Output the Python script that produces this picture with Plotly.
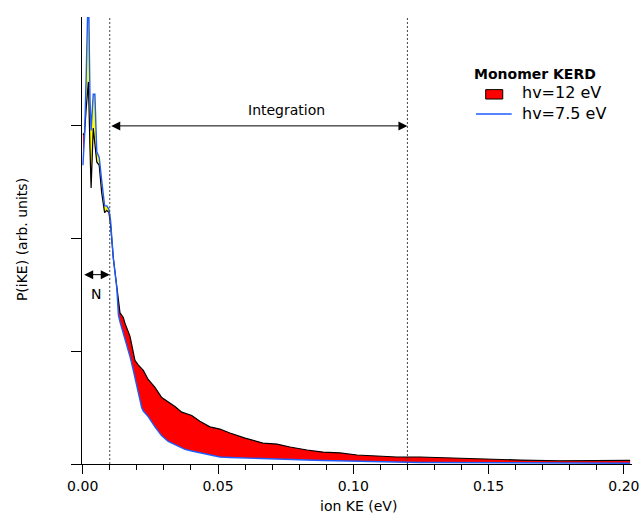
import numpy as np
import plotly.graph_objects as go

# ---- data ----
ion_ke = [0.0001, 0.0007, 0.0013, 0.0021, 0.0027, 0.0031, 0.0039, 0.0045, 0.0052, 0.0061,
          0.0070, 0.0081, 0.0089, 0.0097, 0.0103, 0.0113, 0.0126, 0.0132, 0.0138, 0.0150,
          0.0156, 0.0169, 0.0175, 0.0187, 0.0193, 0.0205, 0.0218, 0.0224, 0.0242, 0.0267,
          0.0292, 0.0316, 0.0341, 0.0366, 0.0378, 0.0403, 0.0433, 0.0470, 0.0507, 0.0544,
          0.0600, 0.0666, 0.0718, 0.0766, 0.0829, 0.0888, 0.0951, 0.1014, 0.1088, 0.1161,
          0.1246, 0.1320, 0.1468, 0.1616, 0.1764, 0.1912, 0.2023]

p_12ev = [2.92, 2.94, 3.16, 3.39, 2.79, 2.45, 2.98, 2.83, 2.68, 2.65,
          2.41, 2.23, 2.25, 2.23, 2.12, 1.83, 1.59, 1.43, 1.34, 1.30,
          1.25, 1.17, 1.13, 0.99, 0.92, 0.88, 0.85, 0.83, 0.75, 0.68,
          0.59, 0.55, 0.51, 0.46, 0.45, 0.43, 0.38, 0.33, 0.31, 0.275,
          0.23, 0.186, 0.177, 0.151, 0.124, 0.106, 0.098, 0.080, 0.071, 0.062,
          0.062, 0.056, 0.044, 0.035, 0.029, 0.029, 0.033]

p_7p5ev = [2.65, 2.92, 3.45, 4.30, 3.23, 2.96, 3.28, 3.28, 2.77, 2.72,
           2.52, 2.29, 2.29, 2.26, 2.16, 1.83, 1.56, 1.32, 1.26, 1.16,
           1.10, 1.01, 0.95, 0.83, 0.76, 0.63, 0.50, 0.47, 0.42, 0.33,
           0.25, 0.20, 0.17, 0.14, 0.13, 0.115, 0.098, 0.080, 0.062, 0.058,
           0.053, 0.044, 0.040, 0.035, 0.035, 0.031, 0.027, 0.027, 0.022, 0.018,
           0.013, 0.013, 0.012, 0.011, 0.009, 0.009, 0.007]

norm_range = [0.0, 0.01]      # "N" normalisation window
integ_range = [0.01, 0.12]    # integration window
y_ticks = [0, 1, 2, 3]
x_ticks = [0.00, 0.05, 0.10, 0.15, 0.20]
x_ticklabels = ["0.00", "0.05", "0.10", "0.15", "0.20"]

x = np.array(ion_ke)
y12 = np.array(p_12ev)
y75 = np.array(p_7p5ev)

BLUE = "#1f5cff"
FONT = "DejaVu Sans"

fig = go.Figure()

# red fill between curves (full range)
fig.add_trace(go.Scatter(x=x, y=y75, mode="lines", line=dict(width=0, color=BLUE),
                         showlegend=False, hoverinfo="skip"))
fig.add_trace(go.Scatter(x=x, y=y12, mode="lines", line=dict(width=0, color="black"),
                         fill="tonexty", fillcolor="#ff0000", showlegend=False, hoverinfo="skip"))

# yellow fill in the normalisation window (where hv=7.5 lies above)
m = (x > x[0]) & (x <= norm_range[1])
fig.add_trace(go.Scatter(x=x[m], y=y75[m], mode="lines", line=dict(width=0, color=BLUE),
                         showlegend=False, hoverinfo="skip"))
fig.add_trace(go.Scatter(x=x[m], y=y12[m], mode="lines", line=dict(width=0, color="black"),
                         fill="tonexty", fillcolor="#ffff00", showlegend=False, hoverinfo="skip"))

# curves
fig.add_trace(go.Scatter(x=x, y=y12, mode="lines", line=dict(width=1.2, color="black"),
                         name="hv=12 eV", showlegend=False))
fig.add_trace(go.Scatter(x=x, y=y75, mode="lines", line=dict(width=1.4, color=BLUE),
                         name="hv=7.5 eV", showlegend=False))

# dotted vertical markers
for xv in [norm_range[1], integ_range[1]]:
    fig.add_shape(type="line", xref="x", yref="paper", x0=xv, x1=xv, y0=0, y1=1,
                  line=dict(color="#444444", width=1, dash="2px,2px"))

# double arrows
fig.add_annotation(x=integ_range[1], y=3.0, ax=integ_range[0], ay=3.0, xref="x", yref="y",
                   axref="x", ayref="y", text="", showarrow=True, arrowhead=2,
                   arrowside="end+start", arrowsize=1.8, arrowwidth=1, arrowcolor="black",
                   standoff=0, startstandoff=0)
fig.add_annotation(x=norm_range[1], y=1.68, ax=norm_range[0], ay=1.68, xref="x", yref="y",
                   axref="x", ayref="y", text="", showarrow=True, arrowhead=2,
                   arrowside="end+start", arrowsize=1.8, arrowwidth=1, arrowcolor="black",
                   standoff=0, startstandoff=0)
fig.add_annotation(x=0.0752, y=3.14, xref="x", yref="y", text="Integration", showarrow=False,
                   font=dict(family=FONT, size=14, color="black"))
fig.add_annotation(x=0.0049, y=1.51, xref="x", yref="y", text="N", showarrow=False,
                   font=dict(family=FONT, size=14, color="black"))

# legend (drawn manually)
fig.add_annotation(x=0.8245, y=0.8725, xref="paper", yref="paper", text="<b>Monomer KERD</b>",
                   showarrow=False, xanchor="center", yanchor="middle",
                   font=dict(family=FONT, size=14, color="black"))
fig.add_annotation(x=0.796, y=0.830, xref="paper", yref="paper", text="hv=12 eV",
                   showarrow=False, xanchor="left", yanchor="middle",
                   font=dict(family=FONT, size=16, color="black"))
fig.add_annotation(x=0.796, y=0.785, xref="paper", yref="paper", text="hv=7.5 eV",
                   showarrow=False, xanchor="left", yanchor="middle",
                   font=dict(family=FONT, size=16, color="black"))
fig.add_shape(type="rect", xref="paper", yref="paper", x0=0.7340, x1=0.7650, y0=0.8165, y1=0.8375,
              line=dict(color="black", width=1), fillcolor="#ff0000")
fig.add_shape(type="line", xref="paper", yref="paper", x0=0.7164, x1=0.7813, y0=0.7830, y1=0.7830,
              line=dict(color=BLUE, width=1.4))

# axis titles
fig.add_annotation(x=-0.109, y=0.501, xref="paper", yref="paper", text="P(iKE) (arb. units)",
                   textangle=-90, showarrow=False, xanchor="center", yanchor="middle",
                   font=dict(family=FONT, size=14, color="black"))
fig.add_annotation(x=0.502, y=-0.094, xref="paper", yref="paper", text="ion KE (eV)",
                   showarrow=False, xanchor="center", yanchor="middle",
                   font=dict(family=FONT, size=14, color="black"))

fig.update_layout(
    width=640, height=515,
    margin=dict(l=82, r=8, t=17, b=51),
    paper_bgcolor="white", plot_bgcolor="white",
    showlegend=False,
    font=dict(family=FONT, size=14, color="black"),
    xaxis=dict(range=[-0.00026, 0.2030], showgrid=False, zeroline=False, automargin=False,
               showline=True, linecolor="black", linewidth=1,
               ticks="outside", ticklen=9, tickwidth=1, tickcolor="black",
               tickvals=x_ticks, ticktext=x_ticklabels,
               tickfont=dict(family=FONT, size=14, color="black"),
               minor=dict(dtick=0.01, tick0=0, ticks="outside", ticklen=5,
                          tickwidth=1, tickcolor="black", showgrid=False)),
    yaxis=dict(range=[0, 3.966], showgrid=False, zeroline=False, automargin=False,
               showline=True, linecolor="black", linewidth=1,
               ticks="outside", ticklen=10, tickwidth=1, tickcolor="black",
               tickvals=y_ticks, showticklabels=False),
)

fig.write_html("out.html", config={"displayModeBar": False},
               post_script="document.body.style.margin='0';document.body.style.padding='0';")
